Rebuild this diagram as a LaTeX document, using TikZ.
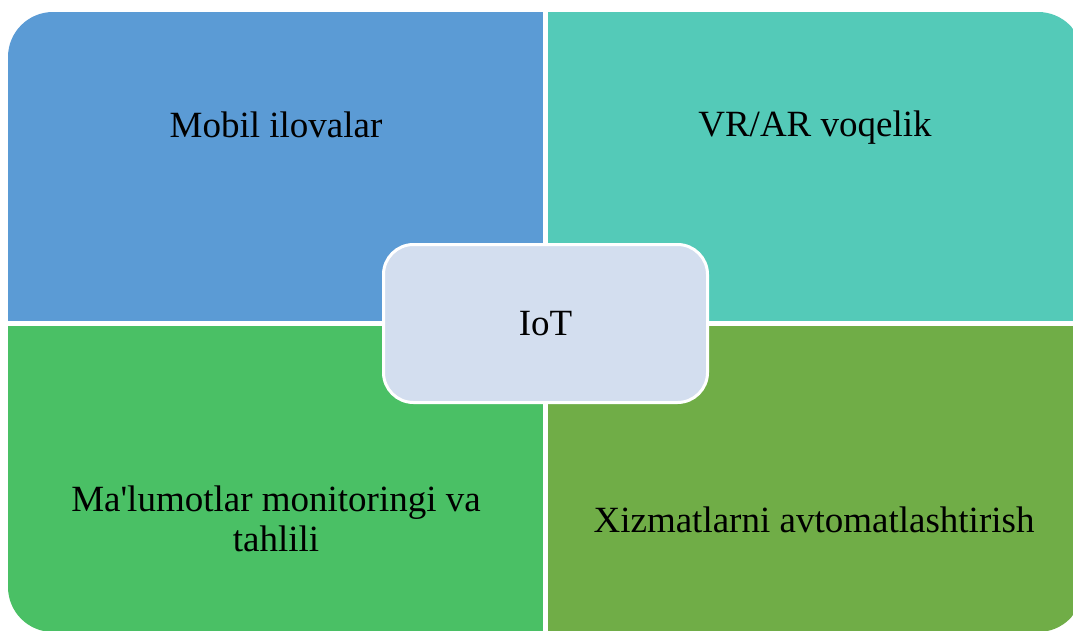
\documentclass[tikz,border=0pt]{standalone}
\usepackage{fontspec}
\setmainfont{Liberation Serif}
\definecolor{qblue}{HTML}{5B9BD5}
\definecolor{qteal}{HTML}{54CAB8}
\definecolor{qgreen}{HTML}{4AC065}
\definecolor{qolive}{HTML}{70AD47}
\definecolor{qcenter}{HTML}{D3DEEF}
\tikzset{
  lbl/.style={font=\fontsize{37}{39.5}\selectfont, text=black, inner sep=0pt, align=center},
  hub/.style={draw=white, line width=3pt, fill=qcenter, rounded corners=30pt,
    minimum width=324pt, minimum height=158pt, inner sep=0pt,
    font=\fontsize{37}{39.5}\selectfont}
}
\begin{document}
\begin{tikzpicture}[x=1pt,y=-1pt]
\useasboundingbox[fill=white] (0,0) rectangle (1073,631);
\begin{scope}
  \clip[rounded corners=45pt] (8,12) rectangle (1083,632);
  \fill[qblue] (8,12) rectangle (543,321);
  \fill[qteal] (548,12) rectangle (1083,321);
  \fill[qgreen] (8,326) rectangle (543,632);
  \fill[qolive] (548,326) rectangle (1083,632);
\end{scope}
\node[lbl, anchor=base] (mobil) at (276,138) {Mobil ilovalar};
\node[lbl, anchor=base] (vrar) at (815,137) {VR/AR voqelik};
\node[lbl, anchor=base] (malum) at (276,551) {Ma\textquotesingle lumotlar monitoringi va\\tahlili};
\node[lbl, anchor=base] (xizmat) at (814,532) {Xizmatlarni avtomatlashtirish};
\node[hub] (iot) at (545.5,323.5) {IoT};
\end{tikzpicture}
\end{document}
